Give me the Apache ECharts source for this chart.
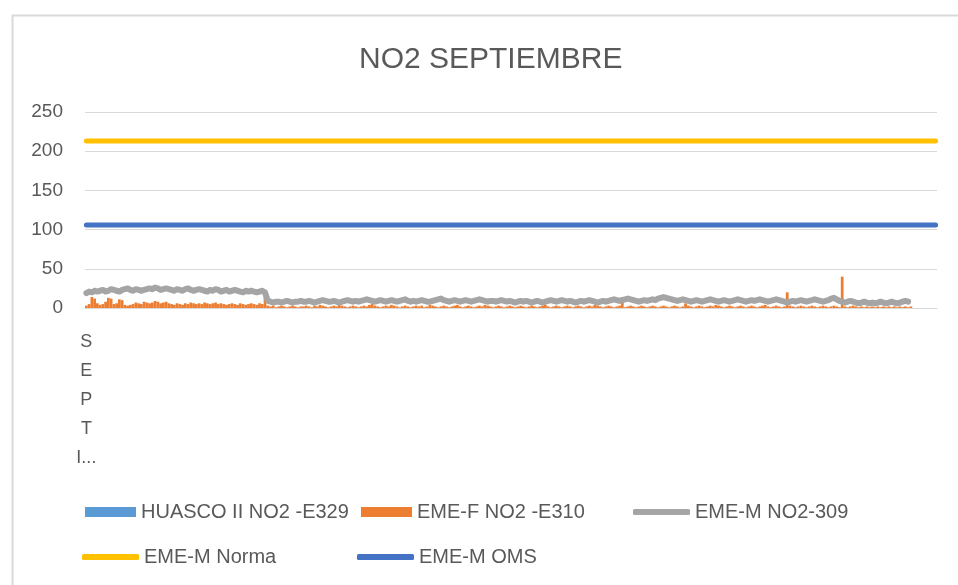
<!DOCTYPE html>
<html><head><meta charset="utf-8">
<script src="https://cdn.jsdelivr.net/npm/echarts@6/dist/echarts.min.js"></script>
<style>html,body{margin:0;padding:0;background:#fff}#c{width:958px;height:585px}</style>
</head><body><div id="c"></div>
<script>
const titleText = 'NO2 SEPTIEMBRE';
const firstCategory = 'SEPTIEMBRE';
const categoryCount = 310;
const yTicks = [0, 50, 100, 150, 200, 250];
const seriesNames = ['HUASCO II NO2 -E329', 'EME-F NO2 -E310', 'EME-M NO2-309', 'EME-M Norma', 'EME-M OMS'];

const huascoE329 = [];
const emeF_E310 = [
3,5,14,12,6, 4,5,8,13,12,5, 6,11,10,4,3,4,5,7,6,5,
8,7,6,7,9,8,6,7,8,6, 5,4,6,5,4,6,5,7,6,5, 6,5,7,6,5,6,7,5,6,5,
4,5,6,5,4,6,5,4,5,6, 5,4,6,5,16,3,
2,3,1,2,3,2,1,2,3,2,1,2,2,3,
2,1,3,2,4,3,2,1,2,3,2,4,3,2,1,2,3,2,1,2,
3,2,4,5,3,2,1,2,3,2,4,3,2,1,2,3,2,1,2,3,
2,3,1,2,4,3,2,1,2,3,2,1,2,3,4,2,1,2,3,2,
1,2,3,2,4,3,2,1,2,3,2,1,2,3,2,1,2,3,2,1,
2,3,2,1,2,3,4,2,1,2,3,2,1,2,3,2,1,2,3,2,
1,2,3,2,4,3,2,1,2,3,2,1,2,3,14,1,2,3,2,1,
2,3,2,1,2,3,2,1,2,3,2,1,2,3,2,1,2,6,3,2,
1,2,3,2,1,2,3,2,4,3,2,1,2,3,2,1,2,3,2,1,
2,3,2,1,2,3,4,2,1,2,3,2,1,2,20,3,2,1,2,3,
2,1,2,3,2,1,2,3,2,1,2,3,2,1,40,2,1,2,3,2,
1,2,1,2,1,2,1,2,1,2,1,2,1,2,1,2,1,2,1,2
];
const emeM_309 = [
19,21,20,22,21, 22,23,21,22,24,23,
22,21,23,24,25,23,22,24,23,22, 23,24,25,24,26,25,23,24,25,24,
23,22,24,23,22,24,25,23,22,23, 24,23,22,21,23,22,24,23,21,22,
23,21,22,23,22,21,20,22,21,22, 21,20,21,22,20,
9,8,7,8,8,7,8,9,8,7,8,8,9,8,
8,9,8,7,8,9,10,9,8,8,9,8,7,8,9,10,9,8,9,8,
9,10,11,10,9,8,9,10,9,8,9,10,9,8,9,10,11,9,8,9,
8,9,10,9,8,8,9,10,11,12,10,9,8,9,10,9,8,9,10,9,
8,9,10,11,10,9,8,9,9,8,9,10,9,8,9,8,7,8,9,8,
9,8,7,8,9,8,7,8,9,10,9,8,9,10,9,8,9,8,7,8,
9,8,9,10,9,8,7,8,9,8,9,10,11,10,9,10,11,12,11,10,
9,8,9,10,9,10,11,10,12,13,14,13,12,11,10,9,10,11,10,9,
8,9,10,9,8,9,10,11,10,9,8,9,10,9,8,9,10,11,10,9,
8,9,10,9,10,11,10,9,8,9,10,11,10,9,8,7,8,9,8,9,
10,9,8,9,10,11,10,9,8,9,10,12,13,11,9,8,7,8,9,8,
7,6,7,8,7,6,7,6,7,8,7,6,7,8,7,6,7,8,9,8
];
const normaValue = 213;
const omsValue = 106;

const categories = [];
for (let i = 0; i < categoryCount; i++) categories.push(i === 0 ? firstCategory : ' ' + i);
const norma = categories.map(() => normaValue);
const oms = categories.map(() => omsValue);

const FONT = 'Liberation Sans';
const legendFont = {fontFamily: FONT, fontSize: 20, color: '#595959'};

function leg(name, left, top, w, h, icon) {
  return {data: [name], left: left, top: top, itemWidth: w, itemHeight: h, icon: icon, textStyle: legendFont, padding: 0, selectedMode: false};
}

const chart = echarts.init(document.getElementById('c'), null, {renderer: 'canvas'});
chart.setOption({
  backgroundColor: '#ffffff',
  animation: false,
  graphic: [{type: 'rect', left: 10, top: 13, shape: {width: 2000, height: 2000}, style: {fill: 'none', stroke: '#d9d9d9', lineWidth: 2}, silent: true}],
  title: {text: titleText, left: 359, top: 45, padding: 0, textStyle: {fontFamily: FONT, fontSize: 30, fontWeight: 'normal', color: '#595959'}},
  legend: [
    leg(seriesNames[0], 85, 502, 51, 10, 'rect'),
    leg(seriesNames[1], 361, 502, 51, 10, 'rect'),
    leg(seriesNames[2], 633, 502, 57, 6, 'roundRect'),
    leg(seriesNames[3], 82, 547, 57, 6, 'roundRect'),
    leg(seriesNames[4], 357, 547, 57, 6, 'roundRect')
  ],
  grid: {left: 85, right: 21, top: 112, bottom: 277, containLabel: false},
  xAxis: {
    type: 'category', data: categories, boundaryGap: true,
    axisLine: {lineStyle: {color: '#d9d9d9', width: 1}},
    axisTick: {show: false},
    axisLabel: {
      interval: function (i) { return i === 0; },
      formatter: function (v) { if (v !== firstCategory) return ''; const s = v.split(''); return s.slice(0, 4).join('\n') + '\n' + s[4] + '...'; },
      fontFamily: FONT, fontSize: 18, color: '#595959', lineHeight: 29, margin: 20, align: 'center'
    }
  },
  yAxis: {
    type: 'value', min: yTicks[0], max: yTicks[yTicks.length - 1], interval: 50,
    axisLine: {show: false}, axisTick: {show: false},
    splitLine: {lineStyle: {color: '#d9d9d9', width: 1}},
    axisLabel: {fontFamily: FONT, fontSize: 19, color: '#595959', margin: 22}
  },
  series: [
    {name: seriesNames[0], type: 'bar', data: huascoE329, itemStyle: {color: '#5B9BD5'}, barGap: '-100%', barCategoryGap: '0%'},
    {name: seriesNames[1], type: 'bar', data: emeF_E310, itemStyle: {color: '#ED7D31'}, barGap: '-100%', barCategoryGap: '0%'},
    {name: seriesNames[2], type: 'line', data: emeM_309, symbol: 'none', lineStyle: {color: '#A5A5A5', width: 6, cap: 'round', join: 'round'}, itemStyle: {color: '#A5A5A5'}},
    {name: seriesNames[3], type: 'line', data: norma, symbol: 'none', lineStyle: {color: '#FFC000', width: 5, cap: 'round'}, itemStyle: {color: '#FFC000'}},
    {name: seriesNames[4], type: 'line', data: oms, symbol: 'none', lineStyle: {color: '#4472C4', width: 5, cap: 'round'}, itemStyle: {color: '#4472C4'}}
  ]
});
</script></body></html>
